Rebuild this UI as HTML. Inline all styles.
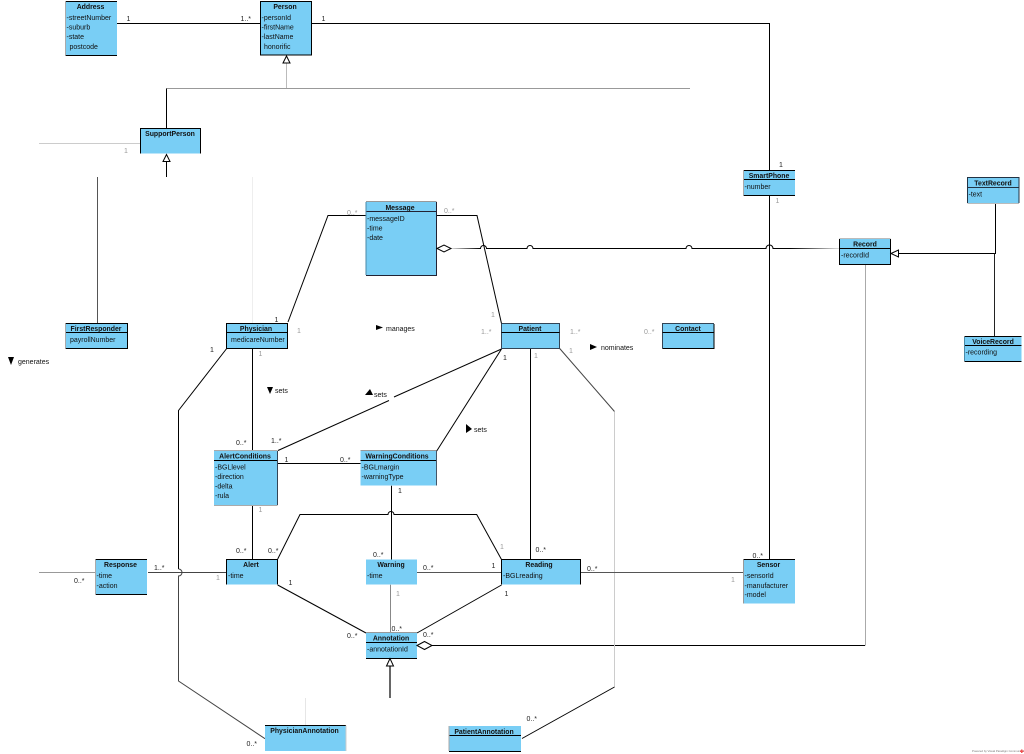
<!DOCTYPE html>
<html><head><meta charset="utf-8"><style>
html,body{margin:0;padding:0;background:#fff;width:1024px;height:754px;overflow:hidden}
svg{display:block}
text{font-family:"Liberation Sans",sans-serif;font-size:7px;fill:#111}
.t{font-weight:bold;font-size:6.9px;text-anchor:middle}
.m{font-size:7px;fill:#222}
.g{font-size:7px;fill:#999}
.l{fill:none;stroke:#000;stroke-width:1}
.b{fill:#79CEF5;stroke:none}
.d{fill:#000;stroke:none}
.w{fill:#fff;stroke:#000;stroke-width:1}
</style></head><body>
<svg width="1024" height="754" viewBox="0 0 1024 754" xmlns="http://www.w3.org/2000/svg">
<defs><linearGradient id="f1" gradientUnits="userSpaceOnUse" x1="451" x2="480" y1="248" y2="248"><stop offset="0" stop-color="#ddd"/><stop offset="1" stop-color="#000"/></linearGradient>
<linearGradient id="f2" gradientUnits="userSpaceOnUse" x1="790" x2="839" y1="248" y2="248"><stop offset="0" stop-color="#000"/><stop offset="1" stop-color="#ddd"/></linearGradient></defs>

<!-- connectors -->
<path class="l" d="M117 23.500H260.500"/>
<path class="l" d="M311.500 23.500H769.500V170"/>
<path class="l" style="stroke:#bbb" d="M286.500 63V88.500"/>
<path class="l" style="stroke:#999" d="M166.500 88.500H690"/>
<path class="l" d="M166.500 88.500V128.500"/>
<path class="l" style="stroke:#ccc" d="M39 143.500H140.500"/>
<path class="l" d="M166.500 161V177"/>
<path class="l" style="stroke:#555" d="M97.500 177V323.500"/>
<path class="l" style="stroke:#eee" d="M252.500 177V323.500"/>
<path class="l" d="M288 322L328 215.500H366"/>
<path class="l" d="M436.500 215.500H477L501.500 323.500"/>
<path d="M451 248.500H480" stroke="url(#f1)" fill="none"/>
<path class="l" d="M480 248.500h0.500a3 3 0 0 1 6 0H527a3 3 0 0 1 6 0H686a3 3 0 0 1 6 0H766a3.500 3.500 0 0 1 7 0H790"/>
<path d="M790 248.500H839" stroke="url(#f2)" fill="none"/>
<path class="l" d="M769.500 195.500V559.500"/>
<path class="l" style="stroke:#aaa" d="M865.500 264.500V645.500"/>
<path class="l" d="M865 645.500H431"/>
<path class="l" d="M899 253.500H995.500V203.500"/>
<path class="l" style="stroke:#222" d="M994.500 253.500V336.500"/>
<path class="l" d="M226.700 348.500L178.500 410.500V569"/>
<path class="l" style="stroke:#444" d="M178.500 569a3.500 3.500 0 0 1 0 7V681L265 738.700"/>
<path class="l" d="M252.500 348.500V450.500"/>
<path class="l" d="M252.500 505V559.500"/>
<path class="l" d="M501.500 349L394 397M389 400.500L278 450.500"/>
<path class="l" d="M501.500 349L436.700 451"/>
<path class="l" d="M530.500 348.500V559.500"/>
<path class="l" style="stroke:#444" d="M559.700 348.500L614.500 411.500"/>
<path class="l" style="stroke:#ccc" d="M614.500 411.500V687"/>
<path class="l" d="M614.500 687L522 738.500"/>
<path class="l" d="M277.700 463.500H360.700"/>
<path class="l" d="M391.500 485.700V559.500"/>
<path class="l" style="stroke:#888" d="M390.500 584.700V632.500"/>
<path class="l" d="M277.700 559L300 514.500H388a3 3 0 0 1 6 0H476.700L501.500 559.500"/>
<path class="l" style="stroke:#999" d="M39 572.500H96"/>
<path class="l" style="stroke:#444" d="M148 572.500H226.500"/>
<path class="l" style="stroke:#555" d="M417 572.500H501.500"/>
<path class="l" style="stroke:#555" d="M580.500 572.500H743.500"/>
<path class="l" d="M277.700 585L366 633"/>
<path class="l" d="M501.500 585L417 633"/>
<path class="l" style="stroke-width:1.200" d="M390 666V698"/>
<path class="l" style="stroke:#e6e6e6" d="M305.500 698V725.500"/>

<!-- boxes -->
<rect class="b" x="65.500" y="1" width="51.500" height="54.500"/>
<path class="l" d="M65.500 1.500H117M65.500 55.500H117"/><path class="l" style="stroke:#aaa" d="M65.500 1V55.500"/>
<text class="t" x="90.500" y="9">Address</text>
<text x="66.500" y="20">-streetNumber</text><text x="66.500" y="29.500">-suburb</text><text x="66.500" y="39">-state</text><text x="69.500" y="49">postcode</text>

<rect class="b" x="260.500" y="1.500" width="51" height="53.500" style="stroke:#000"/>
<text class="t" x="285" y="9">Person</text>
<text x="261.500" y="20">-personId</text><text x="261.500" y="29.500">-firstName</text><text x="261.500" y="39">-lastName</text><text x="264" y="49">honorific</text>

<rect class="b" x="140.500" y="128.500" width="60" height="25"/>
<path class="l" d="M140.500 153.500V128.500H200.500V153.500"/>
<text class="t" x="170" y="136">SupportPerson</text>

<rect class="b" x="65.500" y="323.500" width="62" height="25"/>
<path class="l" d="M65.500 323.500H127.500V348.500H65.500M65.500 332.500H127.500"/><path class="l" style="stroke:#aaa" d="M65.500 323.500V348.500"/>
<text class="t" x="96" y="331">FirstResponder</text><text x="70" y="342">payrollNumber</text>

<rect class="b" x="226.500" y="323.500" width="61" height="25" style="stroke:#000"/>
<path class="l" d="M226.500 332.500H287.500"/>
<text class="t" x="256" y="331">Physician</text><text x="231" y="342">medicareNumber</text>

<rect class="b" x="366" y="201.500" width="70.500" height="74"/>
<path class="l" style="stroke:#999" d="M366 201.500H436.500"/><path class="l" style="stroke:#223" d="M366 211.500H436.500M436.500 202V275.500H366"/><path class="l" style="stroke:#4a8aa8" d="M366 202V275"/>
<text class="t" x="400" y="210">Message</text>
<text x="367" y="221">-messageID</text><text x="367" y="230.500">-time</text><text x="367" y="240">-date</text>

<rect class="b" x="501.500" y="323.500" width="58" height="25"/>
<path class="l" style="stroke:#345" d="M501.500 323.500H559.500V348.500H501.500V323.500"/><path class="l" d="M501.500 332.500H559.500"/>
<text class="t" x="530" y="331">Patient</text>

<rect class="b" x="662.500" y="323.500" width="51.500" height="25"/>
<path class="l" style="stroke:#345" d="M662.500 348.500V323.500H714"/><path class="l" d="M662.500 332.500H714M662.500 348.500H714V324"/>
<text class="t" x="688" y="331">Contact</text>

<rect class="b" x="743.500" y="170" width="51.500" height="25.500"/>
<path class="l" d="M743.500 170.500H795M743.500 179.500H795M743.500 195.500H795"/><path class="l" style="stroke:#aaa" d="M743.500 170V195.500"/>
<text class="t" x="769" y="178">SmartPhone</text><text x="744.500" y="189">-number</text>

<rect class="b" x="967.500" y="177.500" width="51.500" height="25.500"/>
<path class="l" style="stroke:#234" d="M967.500 203V177.500H1019V203M967.500 187.500H1019"/><path class="l" style="stroke:#bbb" d="M967.500 203.500H1019"/>
<text class="t" x="993" y="185.500">TextRecord</text><text x="968.500" y="196.500">-text</text>

<rect class="b" x="839.500" y="238.500" width="51" height="25.500"/>
<path class="l" style="stroke:#bbb" d="M839.500 238.500H890.500"/><path class="l" d="M839.500 248.500H890.500M839.500 239V264.500H890.500V239"/>
<text class="t" x="865" y="246.500">Record</text><text x="841" y="257.500">-recordId</text>

<rect class="b" x="964.500" y="336.500" width="57" height="25"/>
<path class="l" d="M964.500 336.500H1021.500M964.500 345.500H1021.500M964.500 361.500H1021.500"/><path class="l" style="stroke:#4a8aa8" d="M964.500 337V361"/>
<text class="t" x="993" y="344">VoiceRecord</text><text x="965.500" y="354.500">-recording</text>

<rect class="b" x="214" y="450.500" width="63.500" height="54.500"/>
<path class="l" d="M214 460.500H277.500"/><path class="l" style="stroke:#aaa" d="M214 450.500H277.500"/><path class="l" style="stroke:#345" d="M277.500 451V505"/><path class="l" style="stroke:#aaa" d="M214 505.500H277.500"/>
<text class="t" x="245" y="458.500">AlertConditions</text>
<text x="215" y="469.500">-BGLlevel</text><text x="215" y="479">-direction</text><text x="215" y="488.500">-delta</text><text x="215" y="498">-rula</text>

<rect class="b" x="360.500" y="450.500" width="76" height="35"/>
<path class="l" d="M360.500 460.500H436.500"/><path class="l" style="stroke:#999" d="M360.500 450.500H436.500"/><path class="l" style="stroke:#456" d="M436.500 451V485.500"/>
<text class="t" x="397" y="458.500">WarningConditions</text>
<text x="361.500" y="469.500">-BGLmargin</text><text x="361.500" y="479">-warningType</text>

<rect class="b" x="95.500" y="559.500" width="51.500" height="35"/>
<path class="l" d="M95.500 559.500H147M95.500 594.500H147"/><path class="l" style="stroke:#aaa" d="M95.500 559.500V595"/>
<text class="t" x="120.500" y="567">Response</text><text x="96.500" y="578">-time</text><text x="96.500" y="588">-action</text>

<rect class="b" x="226.500" y="559.500" width="51" height="25"/>
<path class="l" d="M226.500 584.500V559.500H277.500V584.500"/>
<text class="t" x="251" y="567">Alert</text><text x="228" y="578">-time</text>

<rect class="b" x="366" y="559.500" width="51" height="25"/>
<text class="t" x="391" y="567">Warning</text><text x="367" y="578">-time</text>

<rect class="b" x="501.500" y="559.500" width="79" height="25"/>
<path class="l" d="M501.500 584.500V559.500H580.500V584.500"/>
<text class="t" x="539" y="567">Reading</text><text x="503" y="578">-BGLreading</text>

<rect class="b" x="366" y="632.500" width="51" height="26"/>
<path class="l" d="M366 642.500H417M366 658.500H417"/><path class="l" style="stroke:#999" d="M366 632.500H417"/>
<text class="t" x="391" y="640.500">Annotation</text><text x="367" y="651.500">-annotationId</text>

<rect class="b" x="743.500" y="559.500" width="51.500" height="44"/>
<path class="l" d="M743.500 559.500H795"/><path class="l" style="stroke:#999" d="M743.500 560V603.500"/>
<text class="t" x="768.500" y="567">Sensor</text><text x="744.500" y="578">-sensorId</text><text x="744.500" y="588">-manufacturer</text><text x="744.500" y="597">-model</text>

<rect class="b" x="265" y="725.500" width="81" height="25.500"/>
<path class="l" d="M265 725.500H346"/><path class="l" style="stroke:#ccc" d="M346 725.500V751"/>
<text class="t" x="304.500" y="733">PhysicianAnnotation</text>

<rect class="b" x="449" y="726" width="72" height="25.500"/>
<path class="l" d="M449 735.500H521M449 751.500H521"/><path class="l" style="stroke:#aaa" d="M449 726V751"/>
<text class="t" x="484" y="734">PatientAnnotation</text>

<!-- arrowheads -->
<path class="w" d="M286.500 56L283 63H290Z"/>
<path class="w" d="M166.500 154.500L163 161.500H170Z"/>
<path class="w" d="M891 253.500L898.500 250V257Z"/>
<path class="w" d="M390 658.500L386.500 666H393.500Z"/>
<path class="w" d="M437 248.500L444 245L451 248.500L444 252Z"/>
<path class="w" d="M417 645.500L424.500 641.500L432 645.500L424.500 649.500Z"/>
<path class="d" d="M376 325L383 327.500L376 330Z"/>
<path class="d" d="M590 344L597 347L590 350Z"/>
<path class="d" d="M365 395L370 389L373 395Z"/>
<path class="d" d="M267 387H273L270 394Z"/>
<path class="d" d="M466 424L472 429L466 433Z"/>
<path class="d" d="M8 357H14L11 365Z"/>

<!-- reading labels -->
<text x="386" y="331">manages</text>
<text x="601" y="350">nominates</text>
<text x="374" y="397">sets</text>
<text x="275" y="393">sets</text>
<text x="474" y="432">sets</text>
<text x="18" y="364">generates</text>

<!-- multiplicities -->
<text class="m" x="126.500" y="21">1</text><text class="m" x="240.500" y="21">1..*</text><text class="m" x="321.500" y="21">1</text>
<text class="g" x="124" y="153">1</text>
<text class="m" x="779" y="167">1</text><text class="g" x="775.500" y="203">1</text>
<text class="g" x="347" y="215">0..*</text><text class="g" x="444" y="213">0..*</text>
<text class="g" x="491" y="317">1</text><text class="g" x="481" y="334">1..*</text><text class="g" x="570" y="334">1..*</text><text class="g" x="644" y="334">0..*</text>
<text class="m" x="503" y="360">1</text><text class="g" x="534" y="358">1</text><text class="g" x="569" y="353">1</text>
<text class="m" x="274.500" y="322">1</text><text class="g" x="297" y="333">1</text><text class="m" x="210" y="352">1</text><text class="g" x="258.500" y="356">1</text>
<text class="m" x="236" y="445">0..*</text><text class="m" x="271" y="443">1..*</text><text class="g" x="258.500" y="512">1</text>
<text class="m" x="284.500" y="462">1</text><text class="m" x="340" y="462">0..*</text><text class="m" x="398" y="493">1</text>
<text class="m" x="236" y="553">0..*</text><text class="m" x="268" y="553">0..*</text><text class="g" x="216" y="580">1</text><text class="m" x="288.500" y="585">1</text>
<text class="m" x="154" y="570">1..*</text><text class="m" x="74" y="583">0..*</text><text class="m" x="347" y="638">0..*</text>
<text class="m" x="373" y="557">0..*</text><text class="m" x="423" y="570">0..*</text><text class="m" x="491.500" y="568">1</text><text class="g" x="500" y="549">1</text>
<text class="m" x="535.500" y="552">0..*</text><text class="m" x="587" y="571">0..*</text><text class="m" x="504.500" y="596">1</text><text class="g" x="396" y="596">1</text>
<text class="m" x="391.500" y="631">0..*</text><text class="m" x="423" y="637">0..*</text>
<text class="m" x="526.500" y="721">0..*</text><text class="m" x="246.500" y="746">0..*</text>
<text class="m" x="752.500" y="558">0..*</text><text class="g" x="731" y="582">1</text>

<!-- watermark -->
<text x="972" y="752" style="font-size:2.800px;fill:#777">Powered by Visual Paradigm Community Edition</text>
<path d="M1021 749.500h1.500v1h1v1.500h-1v1h-1.500v-1h-1v-1.500h1Z" fill="#e55"/>
</svg>
</body></html>
